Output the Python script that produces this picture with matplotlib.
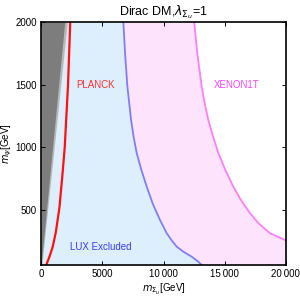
import numpy as np
import matplotlib
matplotlib.use("Agg")
import matplotlib.pyplot as plt

plt.rcParams['font.family'] = ['Liberation Sans', 'DejaVu Sans']
plt.rcParams['mathtext.fontset'] = 'dejavusans'

# boundaries: m_psi [GeV] -> m_Sigma_u [GeV]
lux_mpsi = [60, 86, 126, 166, 206, 260, 314, 420, 550, 686, 820, 954, 1090, 1220, 1486, 1754, 2000]
lux_msig = [13120, 12840, 12300, 11620, 11080, 10640, 10260, 9710, 9120, 8630, 8190, 7810, 7550, 7350, 7050, 6860, 6720]

xenon_mpsi = [60, 200, 260, 314, 390, 474, 580, 686, 820, 954, 1090, 1220, 1354, 1486, 1754, 2000]
xenon_msig = [23000, 20900, 19920, 18690, 17800, 17060, 16320, 15700, 15050, 14480, 14040, 13660, 13360, 13120, 12760, 12510]

planck_mpsi = [60, 130, 206, 320, 520, 800, 1000, 1500, 2000]
planck_msig = [420, 700, 950, 1200, 1500, 1760, 1930, 2200, 2380]

dark_mpsi = [60, 2000]
dark_msig = [0, 1930]
light_mpsi = [60, 2000]
light_msig = [60, 2140]

xticks = [0, 5000, 10000, 15000, 20000]
xticklabels = ['0', '5000', '10\u2009000', '15\u2009000', '20\u2009000']
yticks = [500, 1000, 1500, 2000]

fig = plt.figure(figsize=(3.0, 2.98), dpi=100)
ax = fig.add_axes([0.137, 0.111, 0.816, 0.814])

m = np.linspace(60, 2000, 400)
lux = np.interp(m, lux_mpsi, lux_msig)
xen = np.interp(m, xenon_mpsi, xenon_msig)
dark = np.interp(m, dark_mpsi, dark_msig)
light = np.interp(m, light_mpsi, light_msig)

# filled regions
ax.fill_betweenx(m, 0, lux, color='#ddeefc', lw=0)
ax.fill_betweenx(m, lux, xen, color='#fde3fb', lw=0)
ax.fill_betweenx(m, 0, light, color='#b8b8b8', lw=0)
ax.fill_betweenx(m, 0, dark, color='#7d7d7d', lw=0)

# boundary lines
ax.plot(lux_msig, lux_mpsi, color='#7f7ff5', lw=1.3)
ax.plot(xenon_msig, xenon_mpsi, color='#ff7ff7', lw=1.3)
ax.plot(planck_msig, planck_mpsi, color='#ff1010', lw=1.6)

ax.text(4450, 1500, 'PLANCK', color='#ff3030', fontsize=7, ha='center', va='center')
ax.text(15960, 1500, 'XENON1T', color='#ff40ff', fontsize=7, ha='center', va='center')
ax.text(4900, 200, 'LUX Excluded', color='#3a3aff', fontsize=7, ha='center', va='center')

ax.set_xlim(0, 20000)
ax.set_ylim(60, 2000)
ax.set_xticks(xticks)
ax.set_xticklabels(xticklabels)
ax.set_yticks(yticks)
ax.tick_params(direction='in', length=3, width=0.7, labelsize=7, top=True, right=True, pad=3)
for s in ax.spines.values():
    s.set_linewidth(1.2)

ax.set_title(r'Dirac DM,$\lambda_{\Sigma_u}$=1', fontsize=9, pad=5)
ax.set_xlabel(r'$m_{\Sigma_u}$[GeV]', fontsize=7, labelpad=2)
ax.set_ylabel(r'$m_\psi$[GeV]', fontsize=7)
ax.yaxis.set_label_coords(-0.112, 0.5)

fig.savefig('out.png', dpi=100)
